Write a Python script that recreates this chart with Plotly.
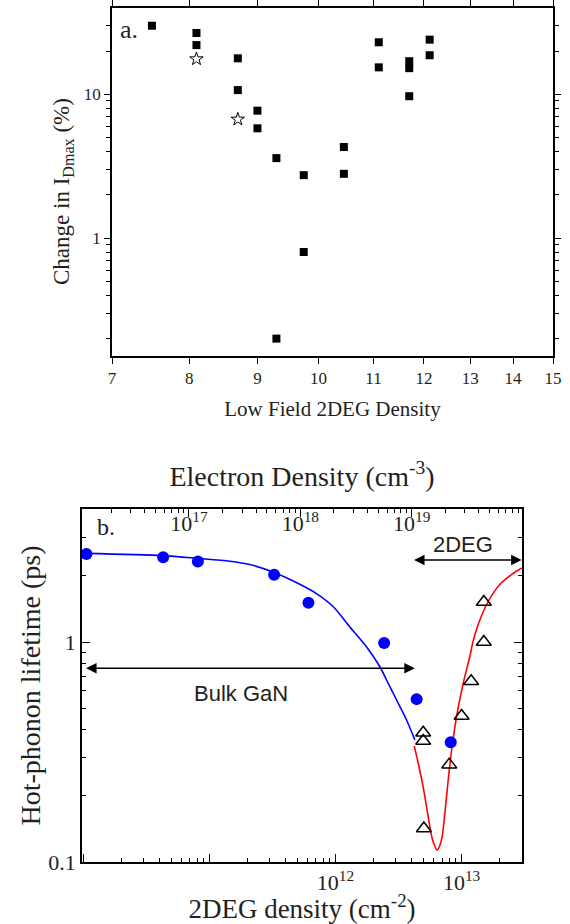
import math
import plotly.graph_objects as go

# ---------------- Panel a data ----------------
density_a = [7.5, 8.1, 8.1, 8.7, 8.7, 9.0, 9.0, 9.3, 9.3, 9.75, 9.75,
             10.45, 10.45, 11.1, 11.1, 11.7, 11.7, 11.7, 12.12, 12.12]
change_a = [30, 26.7, 22, 17.8, 10.7, 7.7, 5.8, 3.6, 0.2, 2.74, 0.8,
            4.3, 2.8, 23, 15.4, 17.0, 15.2, 9.7, 24, 18.7]
density_star = [8.1, 8.7]
change_star = [17.6, 6.7]
xticks_a = [7, 8, 9, 10, 11, 12, 13, 14, 15]

# ---------------- Panel b data ----------------
bulk_n2d = [1.06e10, 4.3e10, 8.1e10, 3.26e11, 6.1e11, 2.43e12, 4.4e12, 8.2e12]
bulk_tau = [2.51, 2.43, 2.32, 2.02, 1.51, 0.99, 0.55, 0.35]
twodeg_n2d = [1.5e13, 1.5e13, 1.19e13, 1.0e13, 4.96e12, 4.96e12, 7.98e12, 5.02e12]
twodeg_tau = [1.52, 1.0, 0.663, 0.461, 0.387, 0.355, 0.277, 0.142]

fit_bulk_n = [1.02e10, 4.29e10, 8.11e10, 1.45e11, 2.09e11, 3.26e11, 5.21e11, 7.06e11,
              9.57e11, 1.30e12, 1.76e12, 2.25e12, 2.54e12, 3.05e12, 3.66e12, 4.26e12]
fit_bulk_tau = [2.53, 2.47, 2.40, 2.33, 2.25, 2.07, 1.83, 1.66,
                1.45, 1.17, 0.952, 0.772, 0.672, 0.545, 0.442, 0.359]
fit_2deg_n = [4.21e12, 4.53e12, 4.95e12, 5.43e12, 5.89e12, 6.40e12, 6.93e12, 7.36e12,
              7.83e12, 8.34e12, 9.12e12, 1.03e13, 1.16e13, 1.24e13, 1.36e13, 1.55e13,
              1.77e13, 2.05e13, 2.5e13, 3.0e13]
fit_2deg_tau = [0.337, 0.281, 0.22, 0.161, 0.126, 0.1135, 0.126, 0.166,
                0.236, 0.323, 0.458, 0.649, 0.857, 1.02, 1.21, 1.45,
                1.66, 1.85, 2.03, 2.17]

SERIF = "Liberation Serif"
SANS = "Liberation Sans"
TXT = "#231f20"

fig = go.Figure()

# panel a
fig.add_trace(go.Scatter(x=density_a, y=change_a, mode="markers",
                         marker=dict(symbol="square", size=8, color="black"),
                         xaxis="x", yaxis="y", showlegend=False))
fig.add_trace(go.Scatter(x=density_star, y=change_star, mode="markers",
                         marker=dict(symbol="star-open", size=10, color="black",
                                     line=dict(width=1, color="black")),
                         xaxis="x", yaxis="y", showlegend=False))

# panel b
fig.add_trace(go.Scatter(x=fit_bulk_n, y=fit_bulk_tau, mode="lines",
                         line=dict(color="#0000ff", width=1.6, shape="spline", smoothing=0.8),
                         xaxis="x2", yaxis="y2", showlegend=False))
fig.add_trace(go.Scatter(x=fit_2deg_n, y=fit_2deg_tau, mode="lines",
                         line=dict(color="#ff0000", width=1.6, shape="spline", smoothing=0.8),
                         xaxis="x2", yaxis="y2", showlegend=False))
fig.add_trace(go.Scatter(x=bulk_n2d, y=bulk_tau, mode="markers",
                         marker=dict(symbol="circle", size=12, color="#0000ff"),
                         xaxis="x2", yaxis="y2", showlegend=False))
fig.add_trace(go.Scatter(x=twodeg_n2d, y=twodeg_tau, mode="markers",
                         marker=dict(symbol="triangle-up-open", size=13, color="black",
                                     line=dict(width=1.5, color="black")),
                         xaxis="x2", yaxis="y2", showlegend=False))
# dummy trace to register top electron-density axis
fig.add_trace(go.Scatter(x=[], y=[], xaxis="x3", yaxis="y2", showlegend=False))

def minors(lo, hi):
    out = []
    for d in range(lo, hi):
        for m in range(2, 10):
            out.append(float(m) * 10.0 ** d)
    return out

common = dict(showline=True, linecolor="black", linewidth=1.5, showgrid=False,
              zeroline=False, tickcolor="black", tickwidth=1.3, automargin=False)

fig.update_layout(
    width=570, height=924,
    margin=dict(l=0, r=0, t=0, b=0),
    paper_bgcolor="white", plot_bgcolor="white",
    font=dict(family=SERIF, color=TXT),
    xaxis=dict(**common, type="log", domain=[0.1965, 0.9702], anchor="y",
               range=[math.log10(7), math.log10(15)],
               tickmode="array", tickvals=xticks_a, ticktext=[str(v) for v in xticks_a],
               ticks="outside", ticklen=6, mirror="ticks",
               tickfont=dict(family=SERIF, size=17, color=TXT),
               title=dict(text="Low Field 2DEG Density", standoff=14,
                          font=dict(family=SERIF, size=21, color=TXT))),
    yaxis=dict(**common, type="log", domain=[0.6147, 0.9913], anchor="x",
               range=[-0.82, 1.6],
               tickmode="array", tickvals=[1, 10], ticktext=["1", "10"],
               ticks="outside", ticklen=6, mirror="ticks",
               minor=dict(tickmode="array", tickvals=minors(-1, 2), ticks="outside",
                          ticklen=4, tickcolor="black", tickwidth=1.2),
               tickfont=dict(family=SERIF, size=17, color=TXT)),
    xaxis2=dict(**common, type="log", domain=[0.1439, 0.9158], anchor="y2",
                range=[9.99, 13.479],
                tickmode="array", tickvals=[1e10, 1e11, 1e12, 1e13],
                ticktext=["", "", "10<sup>12</sup>", "10<sup>13</sup>"],
                ticks="inside", ticklen=8, mirror=False,
                minor=dict(tickmode="array", tickvals=minors(10, 14), ticks="inside",
                           ticklen=4, tickcolor="black", tickwidth=1.2),
                tickfont=dict(family=SERIF, size=22, color=TXT),
                title=dict(text="2DEG density (cm<sup>-2</sup>)", standoff=2,
                           font=dict(family=SERIF, size=27, color=TXT))),
    xaxis3=dict(**common, type="log", overlaying="x2", side="top", anchor="y2",
                range=[16.04, 19.99],
                tickmode="array", tickvals=[1e17, 1e18, 1e19],
                ticktext=["10<sup>17</sup>", "10<sup>18</sup>", "10<sup>19</sup>"],
                ticks="inside", ticklen=8, ticklabelposition="inside",
                minor=dict(tickmode="array", tickvals=minors(16, 20), ticks="inside",
                           ticklen=4, tickcolor="black", tickwidth=1.2),
                tickfont=dict(family=SERIF, size=22, color=TXT),
                title=dict(text="Electron Density (cm<sup>-3</sup>)", standoff=13,
                           font=dict(family=SERIF, size=28, color=TXT))),
    yaxis2=dict(**common, type="log", domain=[0.0671, 0.4491], anchor="x2",
                range=[-1, 0.6045],
                tickmode="array", tickvals=[0.1, 1], ticktext=["0.1", "1"],
                ticks="inside", ticklen=8, mirror="ticks",
                minor=dict(tickmode="array", tickvals=minors(-1, 1), ticks="inside",
                           ticklen=4, tickcolor="black", tickwidth=1.2),
                tickfont=dict(family=SERIF, size=22, color=TXT),
                title=dict(text="Hot-phonon lifetime (ps)", standoff=0,
                           font=dict(family=SERIF, size=28, color=TXT))),
)

def label(text, px, py, family, size, angle=0):
    return dict(text=text, x=px / 570, y=1 - py / 924, xref="paper", yref="paper",
                xanchor="center", yanchor="middle", showarrow=False, textangle=angle,
                font=dict(family=family, size=size, color=TXT))

ann = [
    label("Change in I<sub>Dmax</sub> (%)", 63, 192, SERIF, 23, -90),
    label("a.", 129, 29, SERIF, 26),
    label("b.", 106, 527, SERIF, 24),
    label("Bulk GaN", 241, 693, SANS, 22),
    label("2DEG", 463, 544, SANS, 22),
    # double-headed arrows
    dict(text="", xref="x2", yref="y2", axref="x2", ayref="y2",
         x=12.629, y=math.log10(0.76), ax=10.01, ay=math.log10(0.76),
         showarrow=True, arrowhead=2, startarrowhead=2, arrowside="end+start",
         arrowwidth=1.5, arrowsize=1.4, startarrowsize=1.4, arrowcolor="black",
         standoff=0, startstandoff=0),
    dict(text="", xref="x2", yref="y2", axref="x2", ayref="y2",
         x=13.476, y=0.373, ax=12.611, ay=0.373,
         showarrow=True, arrowhead=2, startarrowhead=2, arrowside="end+start",
         arrowwidth=1.5, arrowsize=1.4, startarrowsize=1.4, arrowcolor="black",
         standoff=0, startstandoff=0),
]
fig.update_layout(annotations=ann)

fig.write_html("out.html", config={"displayModeBar": False},
               post_script="document.body.style.margin='0';")
